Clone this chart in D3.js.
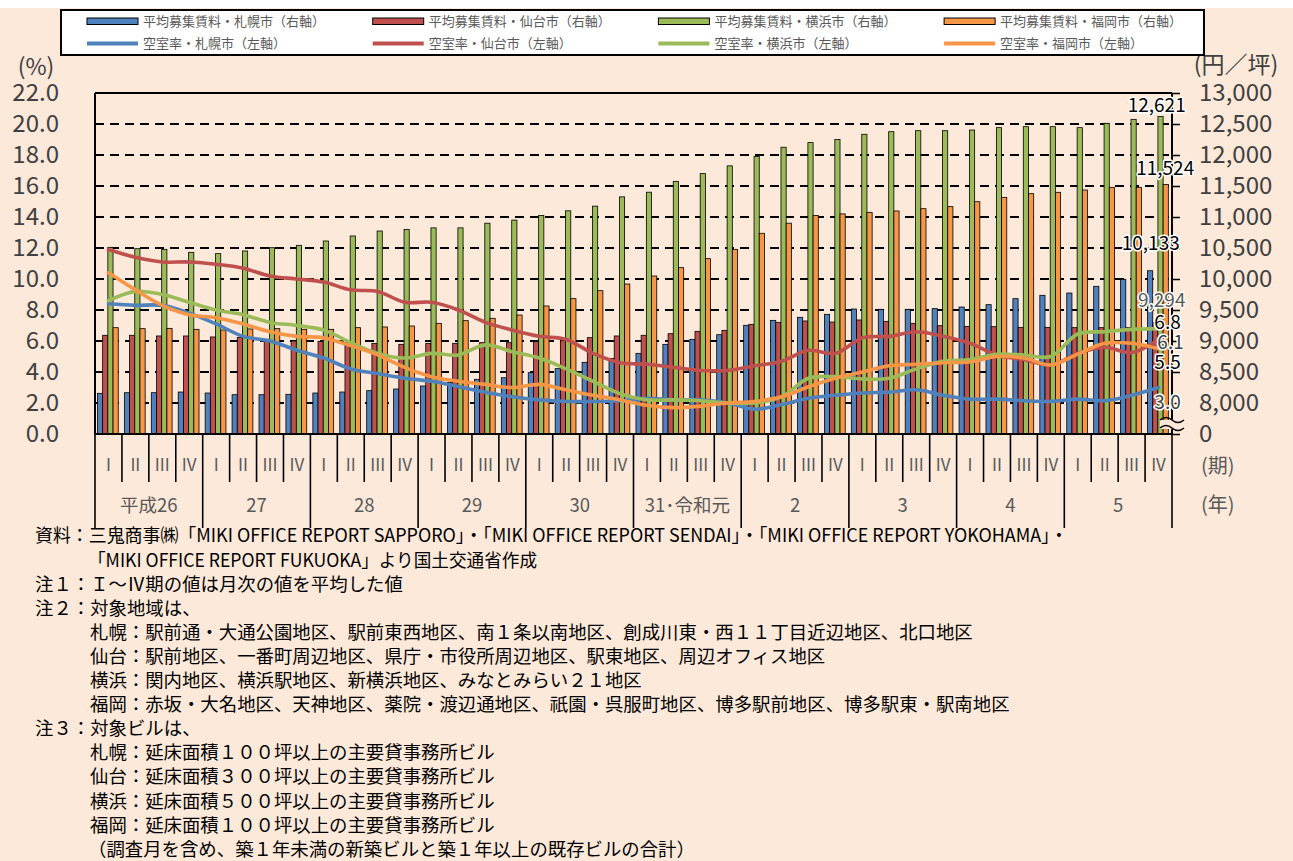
<!DOCTYPE html>
<html>
<head>
<meta charset="utf-8">
<title>オフィス平均募集賃料と空室率（札幌・仙台・横浜・福岡）</title>
<style>
body { margin: 0; background: #FDE9D9; }
svg { display: block; font-family: "Noto Sans CJK JP", "Noto Sans", sans-serif; }
.grid { stroke: #000; stroke-width: 2; stroke-dasharray: 9,6; }
.bar { stroke: #000; stroke-width: 0.8; }
.vac { fill: none; stroke-width: 3.6; stroke-linejoin: round; stroke-linecap: round; }
.legend-text { fill: #595959; font-size: 13px; }
.note { fill: #000; font-size: 18.4px; }
.halo { paint-order: stroke; stroke: #fff; stroke-width: 3px; stroke-linejoin: round; font-size: 19px; }
</style>
</head>
<body>
<svg width="1293" height="861"></svg>
<script src="https://cdnjs.cloudflare.com/ajax/libs/d3/7.8.5/d3.min.js"></script>
<script>
var quarterNames = ["I", "II", "III", "IV"];
var yearNames = ["平成26", "27", "28", "29", "30", "31･令和元", "2", "3", "4", "5"];
var cityNames = ["札幌市", "仙台市", "横浜市", "福岡市"];

// 平均募集賃料（円／坪）
var rentSapporo = [8156, 8166, 8166, 8177, 8161, 8134, 8134, 8140,
  8161, 8177, 8199, 8226, 8274, 8330, 8382, 8408, 8489, 8554, 8656, 8720,
  8801, 8946, 9027, 9102, 9253, 9333, 9382, 9430, 9516, 9511, 9511, 9522,
  9548, 9586, 9683, 9737, 9774, 9882, 9995, 10133];
var rentSendai = [9092, 9092, 9081, 9081, 9065, 9059, 9027, 9000,
  8995, 8980, 8962, 8946, 8962, 8962, 8973, 8973, 8989, 9005, 9054, 9081,
  9092, 9118, 9156, 9172, 9269, 9301, 9323, 9306, 9339, 9317, 9285, 9247,
  9236, 9231, 9220, 9220, 9215, 9215, 9215, 9294];
var rentYokohama = [10511, 10489, 10478, 10430, 10409, 10452, 10505, 10543,
  10613, 10694, 10774, 10800, 10825, 10825, 10900, 10950, 11025, 11100, 11175, 11325,
  11400, 11575, 11700, 11825, 11975, 12125, 12200, 12250, 12334, 12376, 12392, 12392,
  12403, 12441, 12457, 12457, 12441, 12511, 12575, 12621];
var rentFukuoka = [9215, 9199, 9204, 9188, 9177, 9194, 9199, 9188,
  9188, 9215, 9226, 9242, 9285, 9328, 9366, 9419, 9565, 9683, 9812, 9919,
  10048, 10183, 10328, 10478, 10737, 10900, 11025, 11050, 11075, 11097, 11134, 11167,
  11247, 11317, 11376, 11398, 11435, 11478, 11478, 11524];

// 空室率（%）
var vacSapporo = [8.4, 8.3, 8.3, 7.8, 7.1, 6.3, 6.0, 5.4,
  4.9, 4.2, 3.9, 3.6, 3.4, 3.05, 2.7, 2.4, 2.2, 2.1, 2.1, 2.15,
  2.3, 2.2, 2.2, 2.0, 1.6, 1.9, 2.3, 2.5, 2.65, 2.7, 2.85, 2.5,
  2.25, 2.25, 2.15, 2.1, 2.25, 2.15, 2.5, 3.0];
var vacSendai = [11.9, 11.4, 11.1, 11.1, 10.95, 10.7, 10.2, 10.0,
  9.8, 9.3, 9.2, 8.5, 8.5, 8.0, 7.2, 6.7, 6.3, 6.1, 5.2, 4.6,
  4.5, 4.3, 4.1, 4.1, 4.4, 4.7, 5.4, 5.2, 6.2, 6.3, 6.6, 6.3,
  5.85, 5.1, 4.8, 4.45, 5.2, 5.6, 5.25, 6.1];
var vacYokohama = [8.6, 9.2, 9.0, 8.5, 8.0, 7.7, 7.2, 7.0,
  6.7, 5.9, 5.2, 4.9, 5.2, 5.1, 5.75, 5.3, 4.9, 4.2, 3.4, 2.6,
  2.2, 2.2, 2.15, 2.0, 2.0, 2.4, 3.6, 3.7, 3.55, 3.6, 4.2, 4.7,
  4.8, 5.15, 5.1, 5.0, 6.45, 6.6, 6.75, 6.8];
var vacFukuoka = [10.4, 9.3, 8.3, 7.7, 7.5, 7.1, 6.6, 6.3,
  6.2, 5.7, 5.1, 4.3, 3.7, 3.4, 3.2, 3.0, 3.2, 2.85, 2.5, 2.2,
  1.85, 1.7, 1.8, 2.0, 2.1, 2.4, 3.05, 3.6, 4.0, 4.4, 4.5, 4.6,
  4.65, 5.0, 4.9, 4.45, 5.15, 5.85, 5.85, 5.5];

var leftTicks = [0, 2, 4, 6, 8, 10, 12, 14, 16, 18, 20, 22];
var rightTicks = [8000, 8500, 9000, 9500, 10000, 10500, 11000, 11500, 12000, 12500, 13000];
var rentBase = 7500; // 右軸の「0」（軸の省略）

var notes = [
  "資料：三鬼商事㈱「MIKI OFFICE REPORT SAPPORO」・「MIKI OFFICE REPORT SENDAI」・「MIKI OFFICE REPORT YOKOHAMA」・",
  "「MIKI OFFICE REPORT FUKUOKA」より国土交通省作成",
  "注１：Ｉ～Ⅳ期の値は月次の値を平均した値",
  "注２：対象地域は、",
  "札幌：駅前通・大通公園地区、駅前東西地区、南１条以南地区、創成川東・西１１丁目近辺地区、北口地区",
  "仙台：駅前地区、一番町周辺地区、県庁・市役所周辺地区、駅東地区、周辺オフィス地区",
  "横浜：関内地区、横浜駅地区、新横浜地区、みなとみらい２１地区",
  "福岡：赤坂・大名地区、天神地区、薬院・渡辺通地区、祇園・呉服町地区、博多駅前地区、博多駅東・駅南地区",
  "注３：対象ビルは、",
  "札幌：延床面積１００坪以上の主要貸事務所ビル",
  "仙台：延床面積３００坪以上の主要貸事務所ビル",
  "横浜：延床面積５００坪以上の主要貸事務所ビル",
  "福岡：延床面積１００坪以上の主要貸事務所ビル",
  "（調査月を含め、築１年未満の新築ビルと築１年以上の既存ビルの合計）"
];

var barColors = ["#4F81BD", "#C0504D", "#9BBB59", "#F79646"];
var lineColors = ["#4F81BD", "#C0504D", "#9BBB59", "#F79646"];

var rentData = [rentSapporo, rentSendai, rentYokohama, rentFukuoka];
var vacData = [vacSapporo, vacSendai, vacYokohama, vacFukuoka];

var periods = [];
yearNames.forEach(function(y) {
  quarterNames.forEach(function(q) {
    periods.push({ year: y, quarter: q });
  });
});

var plot = { left: 95, right: 1172, top: 93, bottom: 434 };

var svg = d3.select("svg");

svg.append("rect").attr("width", 1293).attr("height", 861).attr("fill", "#FDE9D9");
svg.append("rect").attr("width", 1293).attr("height", 8).attr("fill", "#fff");

var x0 = d3.scaleBand()
  .domain(d3.range(periods.length))
  .range([plot.left, plot.right]);

var x1 = d3.scaleBand()
  .domain(d3.range(4))
  .range([0, x0.bandwidth()])
  .paddingOuter(0.59)
  .align(0.4);

var yL = d3.scaleLinear().domain([0, 22]).range([plot.bottom, plot.top]);
var yR = d3.scaleLinear().domain([rentBase, 13000]).range([plot.bottom, plot.top]);

// grid
svg.append("g").selectAll("line")
  .data(leftTicks.filter(function(v) { return v > 0 && v < 22; }))
  .enter().append("line")
  .attr("class", "grid")
  .attr("x1", plot.left).attr("x2", plot.right)
  .attr("y1", function(d) { return yL(d); })
  .attr("y2", function(d) { return yL(d); });

// bars
var groups = svg.append("g").selectAll("g")
  .data(periods)
  .enter().append("g")
  .attr("transform", function(d, i) { return "translate(" + x0(i) + ",0)"; });

groups.selectAll("rect")
  .data(function(d, i) {
    return rentData.map(function(s, k) { return { k: k, v: s[i] }; });
  })
  .enter().append("rect")
  .attr("class", "bar")
  .attr("x", function(d) { return x1(d.k); })
  .attr("width", x1.bandwidth())
  .attr("y", function(d) { return yR(d.v); })
  .attr("height", function(d) { return yR(rentBase) - yR(d.v); })
  .attr("fill", function(d) { return barColors[d.k]; });

// lines
var line = d3.line()
  .x(function(d, i) { return x0(i) + x0.bandwidth() / 2; })
  .y(function(d) { return yL(d); })
  .curve(d3.curveCatmullRom.alpha(0.5));

svg.append("g").selectAll("path")
  .data(vacData)
  .enter().append("path")
  .attr("class", "vac")
  .attr("stroke", function(d, k) { return lineColors[k]; })
  .attr("d", line);

// frame
var frame = svg.append("g").attr("stroke", "#000").attr("stroke-width", 2);
frame.append("line").attr("x1", plot.left).attr("x2", plot.right).attr("y1", plot.top).attr("y2", plot.top);
frame.append("line").attr("x1", plot.left).attr("x2", plot.right).attr("y1", plot.bottom).attr("y2", plot.bottom);
frame.append("line").attr("x1", plot.left).attr("x2", plot.left).attr("y1", plot.top).attr("y2", plot.bottom);
frame.append("line").attr("x1", plot.right).attr("x2", plot.right).attr("y1", plot.top).attr("y2", plot.bottom);

// left axis
var leftAxis = svg.append("g")
  .attr("transform", "translate(" + plot.left + ",0)")
  .call(d3.axisLeft(yL).tickValues(leftTicks).tickFormat(d3.format(".1f")).tickSize(0).tickPadding(36));
leftAxis.select(".domain").remove();
leftAxis.attr("font-family", null).attr("font-size", 24)
  .selectAll("text").attr("fill", "#404040");

// right axis
var rightAxis = svg.append("g")
  .attr("transform", "translate(" + plot.right + ",0)")
  .call(d3.axisRight(yR).tickValues([rentBase].concat(rightTicks))
    .tickFormat(function(d) { return d === rentBase ? "0" : d3.format(",")(d); })
    .tickSize(8).tickPadding(19));
rightAxis.select(".domain").remove();
rightAxis.attr("font-family", null).attr("font-size", 24);
rightAxis.selectAll("line").attr("stroke", "#000").attr("stroke-width", 1.5);
rightAxis.selectAll("text").attr("fill", "#404040");

// axis break mark
var brk = svg.append("g");
brk.append("rect").attr("x", plot.right - 12).attr("y", yR(rentBase) - 14).attr("width", 24).attr("height", 9).attr("fill", "#FDE9D9");
[yR(rentBase) - 14, yR(rentBase) - 6].forEach(function(by) {
  brk.append("path")
    .attr("d", "M" + (plot.right - 12) + "," + by + " q6,-5 12,0 t12,0")
    .attr("fill", "none").attr("stroke", "#000").attr("stroke-width", 1.6);
});

// unit labels
svg.append("text").attr("x", 36).attr("y", 67).attr("dy", "0.35em").attr("text-anchor", "middle")
  .attr("font-size", 23).attr("fill", "#404040").text("(%)");
svg.append("text").attr("x", 1236).attr("y", 65).attr("dy", "0.35em").attr("text-anchor", "middle")
  .attr("font-size", 23).attr("fill", "#404040").text("(円／坪)");

// category axis
var cat = svg.append("g");
cat.selectAll("line")
  .data(d3.range(periods.length + 1))
  .enter().append("line")
  .attr("x1", function(i) { return plot.left + i * x0.step(); })
  .attr("x2", function(i) { return plot.left + i * x0.step(); })
  .attr("y1", plot.bottom)
  .attr("y2", function(i) { return i % 4 === 0 ? 528 : 482; })
  .attr("stroke", "#000").attr("stroke-width", 1.6);

cat.selectAll(".qlabel")
  .data(periods)
  .enter().append("text")
  .attr("class", "qlabel")
  .attr("x", function(d, i) { return x0(i) + x0.bandwidth() / 2; })
  .attr("y", 465)
  .attr("dy", "0.35em")
  .attr("text-anchor", "middle")
  .attr("font-size", 17)
  .attr("fill", "#595959")
  .text(function(d) { return d.quarter; });

cat.selectAll(".ylabel")
  .data(yearNames)
  .enter().append("text")
  .attr("class", "ylabel")
  .attr("x", function(d, j) { return x0(j * 4) + x0.step() * 2; })
  .attr("y", 506)
  .attr("dy", "0.35em")
  .attr("text-anchor", "middle")
  .attr("font-size", 18.5)
  .attr("fill", "#595959")
  .text(function(d) { return d; });

svg.append("text").attr("x", 1201).attr("y", 466).attr("dy", "0.35em")
  .attr("font-size", 20).attr("fill", "#595959").text("(期)");
svg.append("text").attr("x", 1201).attr("y", 505).attr("dy", "0.35em")
  .attr("font-size", 20).attr("fill", "#595959").text("(年)");

// data labels at the last quarter
var last = periods.length - 1;
var rentLabelOffsets = [[0.6, -21], [6.4, -16], [-3.8, -4.5], [-0.5, -9.5]];
rentData.forEach(function(s, k) {
  svg.append("text")
    .attr("class", "halo")
    .attr("x", x0(last) + x1(k) + x1.bandwidth() / 2 + rentLabelOffsets[k][0])
    .attr("y", yR(s[last]) + rentLabelOffsets[k][1])
    .attr("text-anchor", "middle")
    .attr("fill", k === 1 ? "#595959" : "#000")
    .text(d3.format(",")(s[last]));
});

var vacLabelOffsets = [[9, 21.5], [12, 9.5], [9, 0.5], [9, 20.5]];
vacData.forEach(function(s, k) {
  svg.append("text")
    .attr("class", "halo")
    .attr("x", x0(last) + x0.bandwidth() / 2 + vacLabelOffsets[k][0])
    .attr("y", yL(s[last]) + vacLabelOffsets[k][1])
    .attr("text-anchor", "middle")
    .attr("fill", (k === 0 || k === 1) ? "#404040" : "#000")
    .text(d3.format(".1f")(s[last]));
});

// legend
var legend = svg.append("g");
legend.append("rect")
  .attr("x", 61).attr("y", 10).attr("width", 1143).attr("height", 45)
  .attr("fill", "#fff").attr("stroke", "#000").attr("stroke-width", 2);

cityNames.forEach(function(c, k) {
  var lx = 87 + k * 285.7;
  legend.append("rect")
    .attr("x", lx).attr("y", 18).attr("width", 51).attr("height", 6.5)
    .attr("fill", barColors[k]).attr("stroke", "#000").attr("stroke-width", 1);
  legend.append("text")
    .attr("class", "legend-text")
    .attr("x", lx + 56).attr("y", 21).attr("dy", "0.35em")
    .text("平均募集賃料・" + c + "（右軸）");
  legend.append("line")
    .attr("x1", lx).attr("x2", lx + 51).attr("y1", 43.5).attr("y2", 43.5)
    .attr("stroke", lineColors[k]).attr("stroke-width", 4);
  legend.append("text")
    .attr("class", "legend-text")
    .attr("x", lx + 56).attr("y", 43.5).attr("dy", "0.35em")
    .text("空室率・" + c + "（左軸）");
});

// notes
var noteX = [35, 88, 35, 35, 90, 90, 90, 90, 35, 90, 90, 90, 90, 88];
var noteFit = { 0: 1033, 1: 449 };
svg.append("g").selectAll("text")
  .data(notes)
  .enter().append("text")
  .attr("class", "note")
  .attr("x", function(d, i) { return noteX[i]; })
  .attr("y", function(d, i) { return 536 + i * 24.1; })
  .attr("dy", "0.35em")
  .each(function(d, i) {
    if (noteFit[i]) {
      d3.select(this).attr("textLength", noteFit[i]).attr("lengthAdjust", "spacingAndGlyphs");
    }
  })
  .text(function(d) { return d; });
</script>
</body>
</html>
